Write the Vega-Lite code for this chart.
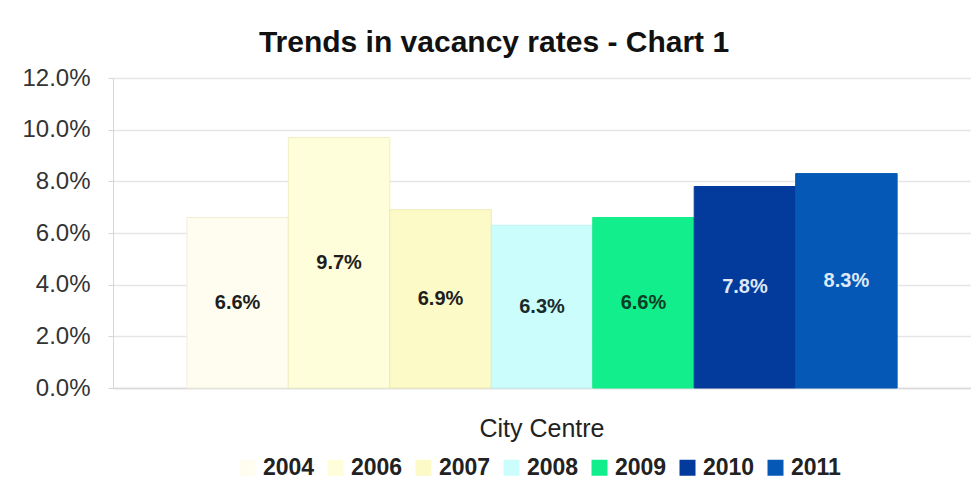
{
  "$schema": "https://vega.github.io/schema/vega-lite/v6.json",
  "width": 858,
  "height": 310,
  "autosize": {"type": "none"},
  "padding": {"left": 113, "top": 78, "right": 0, "bottom": 95},
  "background": "white",
  "title": {
    "text": "Trends in vacancy rates - Chart 1",
    "fontSize": 30,
    "fontWeight": "bold",
    "font": "Liberation Sans",
    "color": "#111111",
    "frame": "group",
    "anchor": "middle",
    "baseline": "alphabetic",
    "dx": -48,
    "dy": 39,
    "offset": 23
  },
  "config": {
    "font": "Liberation Sans",
    "view": {"stroke": null}
  },
  "data": {
    "values": [
      {"area": "City Centre", "year": "2004", "value": 0.066},
      {"area": "City Centre", "year": "2006", "value": 0.097},
      {"area": "City Centre", "year": "2007", "value": 0.069},
      {"area": "City Centre", "year": "2008", "value": 0.063},
      {"area": "City Centre", "year": "2009", "value": 0.066},
      {"area": "City Centre", "year": "2010", "value": 0.078},
      {"area": "City Centre", "year": "2011", "value": 0.083}
    ]
  },
  "encoding": {
    "x": {
      "field": "area",
      "type": "nominal",
      "scale": {"paddingInner": 0, "paddingOuter": 0.104},
      "axis": {
        "title": null,
        "ticks": false,
        "labelAngle": 0,
        "labelFontSize": 25,
        "labelColor": "#222222",
        "labelPadding": 28,
        "domainColor": "#d9d9d9",
        "domainWidth": 1.5
      }
    },
    "xOffset": {
      "field": "year",
      "type": "nominal",
      "scale": {"paddingInner": 0, "paddingOuter": 0}
    }
  },
  "layer": [
    {
      "mark": {"type": "bar", "strokeWidth": 1},
      "encoding": {
        "y": {
          "field": "value",
          "type": "quantitative",
          "scale": {"domain": [0, 0.12], "nice": false},
          "axis": {
            "title": null,
            "values": [0, 0.02, 0.04, 0.06, 0.08, 0.1, 0.12],
            "format": ".1%",
            "labelFontSize": 24,
            "labelColor": "#333333",
            "labelPadding": 18,
            "tickSize": 5,
            "tickColor": "#d6d6d6",
            "domainColor": "#d6d6d6",
            "gridColor": "#e6e6e6",
            "gridWidth": 1.5
          }
        },
        "fill": {
          "field": "year",
          "type": "nominal",
          "scale": {
            "domain": ["2004", "2006", "2007", "2008", "2009", "2010", "2011"],
            "range": ["#FEFDF0", "#FEFEDA", "#FCFAC6", "#CCFDFD", "#12EE8C", "#033B9C", "#0558B6"]
          },
          "legend": {
            "title": null,
            "orient": "none",
            "legendX": 123,
            "legendY": 378,
            "direction": "horizontal",
            "symbolType": "square",
            "symbolSize": 256,
            "symbolStrokeWidth": 0,
            "labelFontSize": 23,
            "labelFontWeight": "bold",
            "labelColor": "#222222",
            "labelOffset": 4,
            "columnPadding": 9
          }
        },
        "stroke": {
          "field": "year",
          "type": "nominal",
          "scale": {
            "domain": ["2004", "2006", "2007", "2008", "2009", "2010", "2011"],
            "range": ["#F1EED6", "#F0EEC2", "#EEEAB4", "#C2F2F2", "#12EE8C", "#033B9C", "#0558B6"]
          },
          "legend": null
        }
      }
    },
    {
      "mark": {"type": "text", "fontSize": 20, "fontWeight": "bold", "baseline": "middle", "align": "center"},
      "encoding": {
        "y": {
          "field": "value",
          "type": "quantitative",
          "scale": {"domain": [0, 0.24], "nice": false},
          "axis": null
        },
        "text": {"field": "value", "type": "quantitative", "format": ".1%"},
        "color": {
          "field": "year",
          "type": "nominal",
          "scale": {
            "domain": ["2004", "2006", "2007", "2008", "2009", "2010", "2011"],
            "range": ["#1e1e1e", "#1e1e1e", "#1e1e1e", "#1a2a2a", "#0b3f25", "#dfe8f8", "#dfe8f8"]
          },
          "legend": null
        }
      }
    }
  ],
  "resolve": {"scale": {"y": "independent", "color": "independent", "fill": "independent", "stroke": "independent"}}
}
